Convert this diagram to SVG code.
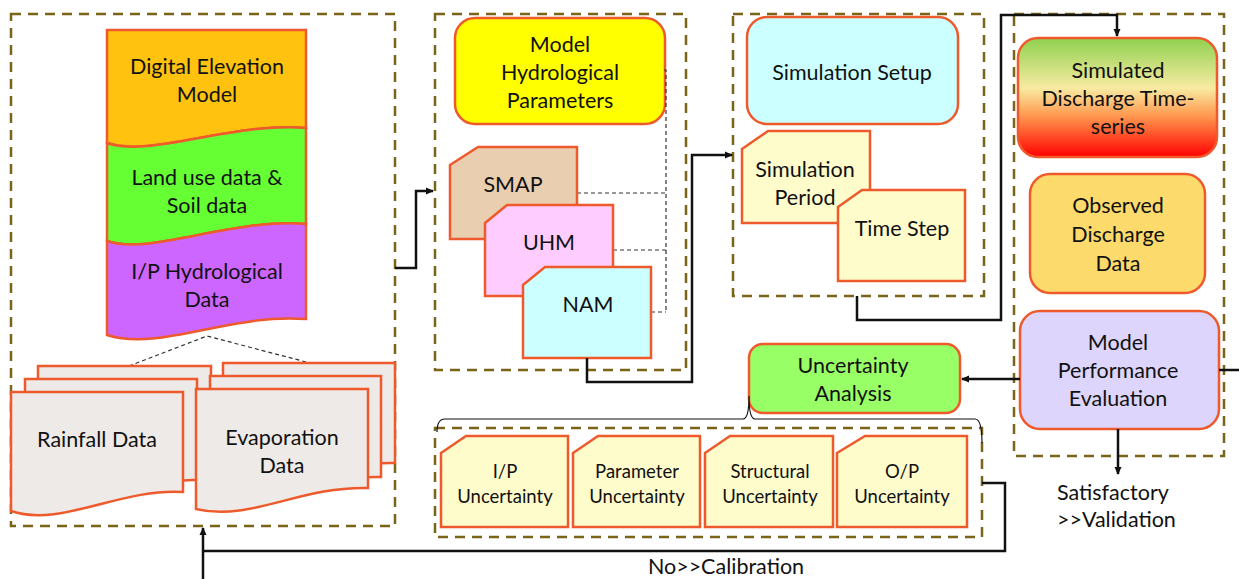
<svg xmlns="http://www.w3.org/2000/svg" width="1239" height="579" viewBox="0 0 1239 579">
  <style>
    text { font-family: Lato, "Open Sans", "Liberation Sans", sans-serif; fill: #111; text-anchor: middle; }
    .t20 { font-size: 21.5px; }
    .t17 { font-size: 18.5px; }
    .grp { fill: none; stroke: #7a6418; stroke-width: 2.5; stroke-dasharray: 10 7; }
    .shape { stroke: #ee5a2c; stroke-width: 2.5; }
    .link { fill: none; stroke: #111; stroke-width: 2.5; }
    .thin { fill: none; stroke: #333; stroke-width: 1.2; stroke-dasharray: 4 3; }
  </style>
  <defs>
    <marker id="arrow" markerWidth="8" markerHeight="8" refX="7" refY="4" orient="auto" markerUnits="userSpaceOnUse">
      <path d="M0,0.5 L8,4 L0,7.5 Z" fill="#111"/>
    </marker>
    <linearGradient id="simGrad" x1="0" y1="0" x2="0" y2="1">
      <stop offset="0" stop-color="#8fd14f"/>
      <stop offset="0.42" stop-color="#f8eba2"/>
      <stop offset="0.65" stop-color="#ff9a50"/>
      <stop offset="1" stop-color="#ff0000"/>
    </linearGradient>
  </defs>

  <!-- group frames -->
  <g id="frames">
    <rect class="grp" x="11" y="14" width="384" height="512"/>
    <rect class="grp" x="435" y="14" width="251" height="356"/>
    <rect class="grp" x="733" y="14" width="251" height="282"/>
    <rect class="grp" x="1014" y="14" width="210" height="442"/>
    <rect class="grp" x="435" y="428" width="547" height="109"/>
  </g>

  <!-- input data stack -->
  <g id="dem">
    <path class="shape" fill="#ffc20e" d="M107,30 H306 V128 C230,122 150,158 107,143 Z"/>
    <text class="t20" x="207" y="74">Digital Elevation</text>
    <text class="t20" x="207" y="102">Model</text>
  </g>
  <g id="landuse">
    <path class="shape" fill="#66ff33" d="M107,143 C150,158 230,122 306,128 V224 C230,218 150,256 107,241 Z"/>
    <text class="t20" x="207" y="185">Land use data &amp;</text>
    <text class="t20" x="207" y="213">Soil data</text>
  </g>
  <g id="hydro">
    <path class="shape" fill="#cc66ff" d="M107,241 C150,256 230,218 306,224 V319 C230,313 160,352 107,335 Z"/>
    <text class="t20" x="207" y="279">I/P Hydrological</text>
    <text class="t20" x="207" y="307">Data</text>
  </g>
  <path class="thin" d="M129,366 L207,336 L310,363"/>

  <g id="rainfall">
    <path class="shape" fill="#eeeae7" d="M38,366 H211 V467 C150,465 110,500 38,486 Z"/>
    <path class="shape" fill="#eeeae7" d="M25,379 H197 V480 C140,478 100,513 25,499 Z"/>
    <path class="shape" fill="#eeeae7" d="M11,392 H183 V492 C120,488 60,528 11,511 Z"/>
    <text class="t20" x="97" y="447">Rainfall Data</text>
  </g>
  <g id="evaporation">
    <path class="shape" fill="#eeeae7" d="M223,363 H395 V463 C330,461 270,500 223,483 Z"/>
    <path class="shape" fill="#eeeae7" d="M210,376 H381 V477 C316,475 256,514 210,497 Z"/>
    <path class="shape" fill="#eeeae7" d="M196,389 H368 V488 C300,486 250,522 196,509 Z"/>
    <text class="t20" x="282" y="445">Evaporation</text>
    <text class="t20" x="282" y="473">Data</text>
  </g>

  <!-- model parameters -->
  <g id="params">
    <rect class="shape" fill="#ffff00" x="455" y="18" width="210" height="106" rx="20"/>
    <text class="t20" x="560" y="52">Model</text>
    <text class="t20" x="560" y="80">Hydrological</text>
    <text class="t20" x="560" y="108">Parameters</text>
  </g>
  <path class="thin" d="M664,70 H666 V312 M577,193 H666 M613,250 H666 M651,312 H666"/>
  <g id="smap">
    <path class="shape" fill="#e9ceb0" d="M450,165 L478,147 H577 V239 H450 Z"/>
    <text class="t20" x="513" y="192">SMAP</text>
  </g>
  <g id="uhm">
    <path class="shape" fill="#ffccff" d="M485,223 L507,205 H613 V296 H485 Z"/>
    <text class="t20" x="549" y="250">UHM</text>
  </g>
  <g id="nam">
    <path class="shape" fill="#ccffff" d="M523,285 L545,267 H651 V358 H523 Z"/>
    <text class="t20" x="588" y="312">NAM</text>
  </g>

  <!-- simulation setup -->
  <g id="simsetup">
    <rect class="shape" fill="#ccffff" x="747" y="17" width="211" height="107" rx="20"/>
    <text class="t20" x="852" y="80">Simulation Setup</text>
  </g>
  <g id="simperiod">
    <path class="shape" fill="#fffccc" d="M742,149 L768,131 H870 V223 H742 Z"/>
    <text class="t20" x="805" y="177">Simulation</text>
    <text class="t20" x="805" y="205">Period</text>
  </g>
  <g id="timestep">
    <path class="shape" fill="#fffccc" d="M838,207 L862,190 H965 V281 H838 Z"/>
    <text class="t20" x="902" y="236">Time Step</text>
  </g>

  <!-- discharge and evaluation -->
  <g id="simulated">
    <rect class="shape" fill="url(#simGrad)" x="1018" y="38" width="199" height="119" rx="20"/>
    <text class="t20" x="1118" y="78">Simulated</text>
    <text class="t20" x="1118" y="106">Discharge Time-</text>
    <text class="t20" x="1118" y="134">series</text>
  </g>
  <g id="observed">
    <rect class="shape" fill="#fcda6c" x="1030" y="174" width="175" height="119" rx="20"/>
    <text class="t20" x="1118" y="213">Observed</text>
    <text class="t20" x="1118" y="242">Discharge</text>
    <text class="t20" x="1118" y="271">Data</text>
  </g>
  <g id="performance">
    <rect class="shape" fill="#ddd5fb" x="1020" y="311" width="199" height="118" rx="20"/>
    <text class="t20" x="1118" y="350">Model</text>
    <text class="t20" x="1118" y="378">Performance</text>
    <text class="t20" x="1118" y="406">Evaluation</text>
  </g>
  <g id="uncertainty">
    <rect class="shape" fill="#99ff66" x="749" y="344" width="211" height="69" rx="14"/>
    <text class="t20" x="853" y="373">Uncertainty</text>
    <text class="t20" x="853" y="401">Analysis</text>
  </g>

  <!-- uncertainty sources -->
  <g id="ipunc">
    <path class="shape" fill="#fffccc" d="M441,453 L466,436 H568 V527 H441 Z"/>
    <text class="t17" x="505" y="478">I/P</text>
    <text class="t17" x="505" y="503">Uncertainty</text>
  </g>
  <g id="paramunc">
    <path class="shape" fill="#fffccc" d="M573,453 L598,436 H700 V527 H573 Z"/>
    <text class="t17" x="637" y="478">Parameter</text>
    <text class="t17" x="637" y="503">Uncertainty</text>
  </g>
  <g id="structunc">
    <path class="shape" fill="#fffccc" d="M705,453 L730,436 H833 V527 H705 Z"/>
    <text class="t17" x="770" y="478">Structural</text>
    <text class="t17" x="770" y="503">Uncertainty</text>
  </g>
  <g id="opunc">
    <path class="shape" fill="#fffccc" d="M837,453 L865,436 H967 V527 H837 Z"/>
    <text class="t17" x="902" y="478">O/P</text>
    <text class="t17" x="902" y="503">Uncertainty</text>
  </g>
  <path fill="none" stroke="#111" stroke-width="1.2" d="M437,432 Q437,419 445,419 H743 Q749,419 749,396 Q749,419 755,419 H975 Q982,419 982,443"/>

  <!-- connectors -->
  <g id="connectors">
    <path class="link" d="M395,268 H416 V191 H433" marker-end="url(#arrow)"/>
    <path class="link" d="M587,358 V382 H692 V155 H732" marker-end="url(#arrow)"/>
    <path class="link" d="M857,296 V320 H1001 V15 H1117 V36" marker-end="url(#arrow)"/>
    <path class="link" d="M1020,379 H962" marker-end="url(#arrow)"/>
    <path class="link" d="M1118,429 V474" marker-end="url(#arrow)"/>
    <path class="link" d="M1219,370 H1239"/>
    <path class="link" d="M982,483 H1005 V551 H203"/>
    <path class="link" d="M203,579 V528" marker-end="url(#arrow)"/>
  </g>

  <!-- outcome labels -->
  <g id="labels">
    <text class="t20" x="1057" y="500" style="text-anchor:start">Satisfactory</text>
    <text class="t20" x="1057" y="527" style="text-anchor:start">&gt;&gt;Validation</text>
    <text class="t20" x="726" y="574">No&gt;&gt;Calibration</text>
  </g>
</svg>
